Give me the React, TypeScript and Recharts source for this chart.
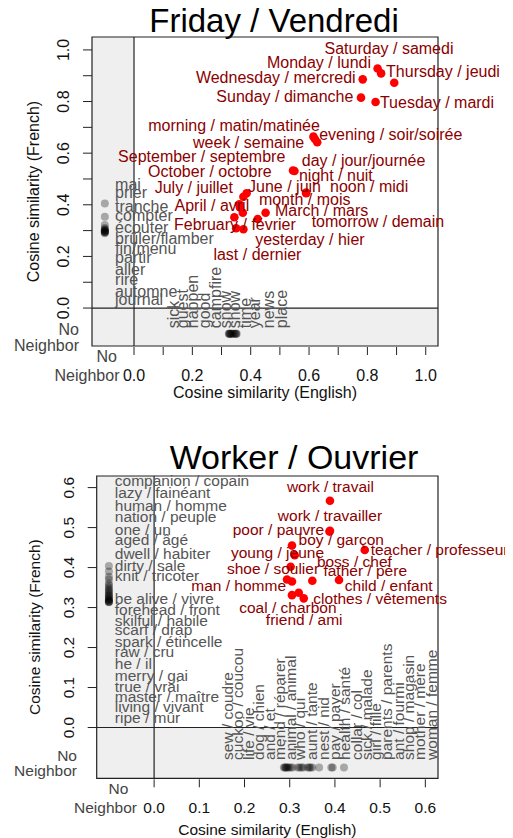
import { ScatterChart, Scatter, XAxis, YAxis, ReferenceArea, ReferenceLine } from 'recharts'

const FONT = '"Liberation Sans", Arial, Helvetica, sans-serif'
const DARK_RED = '#8b0000'
const GREY_TEXT = '#555555'
const BAND = '#efefef'
const NN = -0.1 // slot used for "No Neighbor" on either axis

type Align = 'start' | 'middle' | 'end'

// ---------- Friday / Vendredi ----------
const fridayPairs = [
  'Saturday / samedi', 'Monday / lundi', 'Thursday / jeudi', 'Wednesday / mercredi',
  'Sunday / dimanche', 'Tuesday / mardi', 'morning / matin/matinée', 'evening / soir/soirée',
  'week / semaine', 'day / jour/journée', 'night / nuit', 'noon / midi', 'tomorrow / demain',
  'March / mars', 'yesterday / hier', 'June / juin', 'July / juillet', 'month / mois',
  'April / avril', 'September / septembre', 'October / octobre', 'February / février', 'last / dernier',
]
const fridayEnglish = [0.892, 0.835, 0.847, 0.784, 0.778, 0.828, 0.615, 0.628, 0.62, 0.55, 0.545, 0.59, 0.59, 0.451, 0.424, 0.386, 0.375, 0.361, 0.363, 0.373, 0.344, 0.35, 0.375]
const fridayFrench = [0.873, 0.928, 0.909, 0.886, 0.815, 0.798, 0.664, 0.642, 0.655, 0.531, 0.533, 0.445, 0.447, 0.369, 0.345, 0.445, 0.431, 0.402, 0.39, 0.369, 0.352, 0.309, 0.305]
// where each pair's tag sits, in data units (hand placed like the reference)
const fridayTagX = [0.874, 0.634, 0.864, 0.486, 0.517, 0.843, 0.343, 0.88, 0.393, 0.787, 0.692, 0.806, 0.836, 0.643, 0.603, 0.516, 0.205, 0.585, 0.267, 0.232, 0.26, 0.346, 0.423]
const fridayTagY = [1.004, 0.95, 0.915, 0.895, 0.818, 0.798, 0.709, 0.671, 0.643, 0.57, 0.513, 0.469, 0.334, 0.377, 0.266, 0.47, 0.466, 0.421, 0.399, 0.586, 0.528, 0.322, 0.208]
const fridayTagAlign: Align[] = ['middle', 'middle', 'start', 'middle', 'middle', 'start', 'middle', 'middle', 'middle', 'middle', 'middle', 'middle', 'middle', 'middle', 'middle', 'middle', 'middle', 'middle', 'middle', 'middle', 'middle', 'middle', 'middle']

const fridayFrenchOnly = ['mai', 'prier', 'tranche', 'compter', 'écouter', 'brûler/flamber', 'fin/menu', 'partir', 'aller', 'rire', 'automne', 'journal']
const fridayFrenchOnlySim = [0.405, 0.354, 0.322, 0.31, 0.305, 0.302, 0.3, 0.298, 0.296, 0.295, 0.293, 0.29]
const fridayFrenchOnlyTagY = [0.477, 0.446, 0.393, 0.36, 0.311, 0.27, 0.231, 0.195, 0.15, 0.109, 0.066, 0.034]

const fridayEnglishOnly = ['sick', 'guest', 'happen', 'good', 'campfire', 'snow', 'show', 'time', 'year', 'news', 'place']
const fridayEnglishOnlySim = [0.325, 0.326, 0.328, 0.33, 0.332, 0.336, 0.34, 0.345, 0.348, 0.35, 0.352]
const fridayEnglishOnlyTagX = [0.134, 0.165, 0.202, 0.243, 0.281, 0.315, 0.343, 0.381, 0.413, 0.461, 0.504]

// ---------- Worker / Ouvrier ----------
const workerPairs = [
  'work / travail', 'work / travailler', 'poor / pauvre', 'boy / garçon', 'young / jeune',
  'teacher / professeur', 'boss / chef', 'shoe / soulier', 'father / père', 'man / homme',
  'child / enfant', 'clothes / vêtements', 'coal / charbon', 'friend / ami',
]
const workerEnglish = [0.389, 0.389, 0.388, 0.305, 0.311, 0.466, 0.302, 0.294, 0.35, 0.305, 0.409, 0.331, 0.305, 0.32]
const workerFrench = [0.567, 0.492, 0.49, 0.455, 0.431, 0.444, 0.402, 0.37, 0.367, 0.365, 0.369, 0.323, 0.331, 0.337]
const workerTagX = [0.39, 0.389, 0.275, 0.414, 0.273, 0.479, 0.443, 0.263, 0.467, 0.187, 0.519, 0.5, 0.296, 0.332]
const workerTagY = [0.602, 0.529, 0.496, 0.469, 0.438, 0.446, 0.415, 0.398, 0.392, 0.354, 0.355, 0.323, 0.3, 0.271]
const workerTagAlign: Align[] = ['middle', 'middle', 'middle', 'middle', 'middle', 'start', 'middle', 'middle', 'middle', 'middle', 'middle', 'middle', 'middle', 'middle']

const workerFrenchOnly = [
  'companion / copain', 'lazy / fainéant', 'human / homme', 'nation / peuple', 'one / un', 'aged / âgé',
  'dwell / habiter', 'dirty / sale', 'knit / tricoter', 'be alive / vivre', 'forehead / front',
  'skilful / habile', 'scarf / drap', 'spark / étincelle', 'raw / cru', 'he / il', 'merry / gai',
  'true / vrai', 'master / maître', 'living / vivant', 'ripe / mûr',
]
const workerFrenchOnlySim = [0.404, 0.39, 0.377, 0.37, 0.36, 0.355, 0.35, 0.345, 0.342, 0.338, 0.334, 0.331, 0.328, 0.325, 0.322, 0.32, 0.318, 0.316, 0.315, 0.314, 0.313]
const workerFrenchOnlyTagY = [0.617, 0.588, 0.554, 0.527, 0.494, 0.469, 0.434, 0.406, 0.381, 0.323, 0.296, 0.267, 0.244, 0.216, 0.189, 0.161, 0.131, 0.102, 0.077, 0.052, 0.026]

const workerEnglishOnly = [
  'sew / coudre', 'cuckoo / coucou', 'life / vie', 'dog / chien', 'and / et', 'mend / réparer',
  'animal / animal', 'who / qui', 'aunt / tante', 'nest / nid', 'pay / payer', 'health / santé',
  'collar / col', 'sick / malade', 'girl / fille', 'parents / parents', 'ant / fourmi',
  'shop / magasin', 'mother / mère', 'woman / femme',
]
const workerEnglishOnlySim = [0.287, 0.289, 0.291, 0.293, 0.295, 0.298, 0.302, 0.306, 0.318, 0.322, 0.326, 0.33, 0.34, 0.343, 0.346, 0.35, 0.365, 0.392, 0.395, 0.42]
const workerEnglishOnlyTagX = [0.163, 0.184, 0.208, 0.232, 0.256, 0.278, 0.302, 0.322, 0.348, 0.374, 0.398, 0.422, 0.448, 0.47, 0.49, 0.514, 0.54, 0.562, 0.588, 0.614]

const fridayTicksX = [0, 0.1, 0.2, 0.3, 0.4, 0.5, 0.6, 0.7, 0.8, 0.9, 1.0]
const fridayTicksY = [0, 0.1, 0.2, 0.3, 0.4, 0.5, 0.6, 0.7, 0.8, 0.9, 1.0]
const workerTicksX = [0, 0.1, 0.2, 0.3, 0.4, 0.5, 0.6]
const workerTicksY = [0, 0.1, 0.2, 0.3, 0.4, 0.5, 0.6]

interface PlotSpec {
  title: string
  titleCenter: number
  titleTop: number
  titleSize: number
  top: number
  height: number
  margin: { top: number; right: number; bottom: number; left: number }
  yAxisWidth: number
  xAxisHeight: number
  xDomain: [number, number]
  yDomain: [number, number]
  xTicks: number[]
  yTicks: number[]
  labelStep: number
  fontSize: number
  pairs: string[]
  english: number[]
  french: number[]
  tagX: number[]
  tagY: number[]
  tagAlign: Align[]
  frenchOnly: string[]
  frenchOnlySim: number[]
  frenchOnlyTagX: number
  frenchOnlyTagY: number[]
  englishOnly: string[]
  englishOnlySim: number[]
  englishOnlyTagX: number[]
  englishOnlyTagY: number
  xNN: [number, number] // dx of "No" and "Neighbor"
  yNN: [number, number, number] // dx, dy of "No", dy of "Neighbor"
  xTitleOffset: number
  yTitleOffset: number
}

function Plot({ s }: { s: PlotSpec }) {
  const fs = s.fontSize
  const [xMin, xMax] = s.xDomain
  const [yMin, yMax] = s.yDomain

  const paired = s.pairs.map((label, i) => ({ x: s.english[i], y: s.french[i], label }))
  const tags = s.pairs.map((label, i) => ({ x: s.tagX[i], y: s.tagY[i], label, align: s.tagAlign[i] }))
  const frDots = s.frenchOnlySim.map((y) => ({ x: NN, y }))
  const frTags = s.frenchOnly.map((label, i) => ({ x: s.frenchOnlyTagX, y: s.frenchOnlyTagY[i], label }))
  const enDots = s.englishOnlySim.map((x) => ({ x, y: NN }))
  const enTags = s.englishOnly.map((label, i) => ({ x: s.englishOnlyTagX[i], y: s.englishOnlyTagY, label }))

  const xTick = (p: any) => {
    const { x, y, payload } = p
    const v = payload.value
    if (v === NN) {
      return (
        <g fontFamily={FONT} fontSize={fs} fill="#444">
          <text x={x + s.xNN[0]} y={y + 10} textAnchor="middle" dominantBaseline="central">No</text>
          <text x={x + s.xNN[1]} y={y + 29} textAnchor="middle" dominantBaseline="central">Neighbor</text>
        </g>
      )
    }
    const show = Math.round(v * 10) % s.labelStep === 0
    return (
      <g>
        <line x1={x} x2={x} y1={y + 1} y2={y + 9} stroke="#222" />
        {show && (
          <text x={x} y={y + 29} textAnchor="middle" dominantBaseline="central" fontFamily={FONT} fontSize={fs} fill="#111">
            {v.toFixed(1)}
          </text>
        )}
      </g>
    )
  }

  const yTick = (p: any) => {
    const { x, y, payload } = p
    const v = payload.value
    if (v === NN) {
      return (
        <g fontFamily={FONT} fontSize={fs} fill="#444" textAnchor="end">
          <text x={x + s.yNN[0]} y={y + s.yNN[1]} dominantBaseline="central">No</text>
          <text x={x + s.yNN[0]} y={y + s.yNN[2]} dominantBaseline="central">Neighbor</text>
        </g>
      )
    }
    const show = Math.round(v * 10) % s.labelStep === 0
    const lx = x - 28
    return (
      <g>
        <line x1={x - 9} x2={x} y1={y} y2={y} stroke="#222" />
        {show && (
          <text x={lx} y={y} transform={`rotate(-90 ${lx} ${y})`} textAnchor="middle" dominantBaseline="central" fontFamily={FONT} fontSize={fs} fill="#111">
            {v.toFixed(1)}
          </text>
        )}
      </g>
    )
  }

  return (
    <>
      <div
        style={{
          position: 'absolute', left: s.titleCenter - 200, top: s.titleTop, width: 400,
          textAlign: 'center', fontSize: s.titleSize, lineHeight: `${s.titleSize}px`, color: '#000',
        }}
      >
        {s.title}
      </div>
      <div style={{ position: 'absolute', left: 0, top: s.top }}>
        <ScatterChart width={513} height={s.height} margin={s.margin}>
          <XAxis
            type="number" dataKey="x" domain={s.xDomain} ticks={[NN, ...s.xTicks]} interval={0}
            tick={xTick} tickLine={false} axisLine={false} tickSize={0} tickMargin={0} height={s.xAxisHeight}
            label={{ value: 'Cosine similarity (English)', position: 'insideTop', offset: s.xTitleOffset, style: { fontFamily: FONT, fontSize: fs, fill: '#111' } }}
          />
          <YAxis
            type="number" dataKey="y" domain={s.yDomain} ticks={[NN, ...s.yTicks]} interval={0}
            tick={yTick} tickLine={false} axisLine={false} tickSize={0} tickMargin={0} width={s.yAxisWidth}
            label={{ value: 'Cosine similarity (French)', angle: -90, position: 'insideLeft', offset: s.yTitleOffset, style: { textAnchor: 'middle', fontFamily: FONT, fontSize: fs, fill: '#111' } }}
          />
          <ReferenceArea x1={xMin} x2={0} y1={yMin} y2={yMax} fill={BAND} fillOpacity={1} stroke="none" ifOverflow="visible" />
          <ReferenceArea x1={0} x2={xMax} y1={yMin} y2={0} fill={BAND} fillOpacity={1} stroke="none" ifOverflow="visible" />
          <ReferenceLine x={0} stroke="#222" strokeWidth={1.2} ifOverflow="visible" />
          <ReferenceLine y={0} stroke="#222" strokeWidth={1.2} ifOverflow="visible" />
          <Scatter data={frDots} isAnimationActive={false} shape={(p: any) => <circle cx={p.cx} cy={p.cy} r={4} fill="#000" fillOpacity={0.3} />} />
          <Scatter data={enDots} isAnimationActive={false} shape={(p: any) => <circle cx={p.cx} cy={p.cy} r={4} fill="#000" fillOpacity={0.3} />} />
          <Scatter
            data={frTags} isAnimationActive={false}
            shape={(p: any) => (
              <text x={p.cx} y={p.cy} textAnchor="start" dominantBaseline="central" fontFamily={FONT} fontSize={fs} fill={GREY_TEXT}>
                {p.payload.label}
              </text>
            )}
          />
          <Scatter
            data={enTags} isAnimationActive={false}
            shape={(p: any) => (
              <text x={p.cx} y={p.cy} transform={`rotate(-90 ${p.cx} ${p.cy})`} textAnchor="start" dominantBaseline="central" fontFamily={FONT} fontSize={fs} fill={GREY_TEXT}>
                {p.payload.label}
              </text>
            )}
          />
          <Scatter data={paired} isAnimationActive={false} shape={(p: any) => <circle cx={p.cx} cy={p.cy} r={4.3} fill="#ff0000" />} />
          <Scatter
            data={tags} isAnimationActive={false}
            shape={(p: any) => (
              <text x={p.cx} y={p.cy} textAnchor={p.payload.align} dominantBaseline="central" fontFamily={FONT} fontSize={fs} fill={DARK_RED}>
                {p.payload.label}
              </text>
            )}
          />
          <ReferenceArea x1={xMin} x2={xMax} y1={yMin} y2={yMax} fill="none" stroke="#222" strokeWidth={1.2} ifOverflow="visible" />
        </ScatterChart>
      </div>
    </>
  )
}

const friday: PlotSpec = {
  title: 'Friday / Vendredi',
  titleCenter: 274,
  titleTop: 3.8,
  titleSize: 33,
  top: 0,
  height: 410,
  margin: { top: 37, right: 75, bottom: 0, left: 0 },
  yAxisWidth: 92,
  xAxisHeight: 64,
  xDomain: [-0.144, 1.042],
  yDomain: [-0.147, 1.05],
  xTicks: fridayTicksX,
  yTicks: fridayTicksY,
  labelStep: 2,
  fontSize: 16,
  pairs: fridayPairs,
  english: fridayEnglish,
  french: fridayFrench,
  tagX: fridayTagX,
  tagY: fridayTagY,
  tagAlign: fridayTagAlign,
  frenchOnly: fridayFrenchOnly,
  frenchOnlySim: fridayFrenchOnlySim,
  frenchOnlyTagX: -0.065,
  frenchOnlyTagY: fridayFrenchOnlyTagY,
  englishOnly: fridayEnglishOnly,
  englishOnlySim: fridayEnglishOnlySim,
  englishOnlyTagX: fridayEnglishOnlyTagX,
  englishOnlyTagY: -0.078,
  xNN: [1.9, -17.8],
  yNN: [-13, -4, 12],
  xTitleOffset: 40.5,
  yTitleOffset: 33,
}

const worker: PlotSpec = {
  title: 'Worker / Ouvrier',
  titleCenter: 294,
  titleTop: 439.5,
  titleSize: 34,
  top: 430,
  height: 408,
  margin: { top: 46, right: 75, bottom: 0, left: 0 },
  yAxisWidth: 96.7,
  xAxisHeight: 59.7,
  xDomain: [-0.127, 0.628],
  yDomain: [-0.127, 0.629],
  xTicks: workerTicksX,
  yTicks: workerTicksY,
  labelStep: 1,
  fontSize: 15.5,
  pairs: workerPairs,
  english: workerEnglish,
  french: workerFrench,
  tagX: workerTagX,
  tagY: workerTagY,
  tagAlign: workerTagAlign,
  frenchOnly: workerFrenchOnly,
  frenchOnlySim: workerFrenchOnlySim,
  frenchOnlyTagX: -0.087,
  frenchOnlyTagY: workerFrenchOnlyTagY,
  englishOnly: workerEnglishOnly,
  englishOnlySim: workerEnglishOnlySim,
  englishOnlyTagX: workerEnglishOnlyTagX,
  englishOnlyTagY: -0.081,
  xNN: [9.6, -3.4],
  yNN: [-19.7, -12.5, 2.5],
  xTitleOffset: 45.2,
  yTitleOffset: 35,
}

export default function App() {
  return (
    <div
      style={{
        position: 'relative', width: 513, height: 838, marginTop: -8, marginLeft: -8,
        background: '#fff', fontFamily: FONT, overflow: 'hidden',
      }}
    >
      <Plot s={friday} />
      <Plot s={worker} />
    </div>
  )
}
